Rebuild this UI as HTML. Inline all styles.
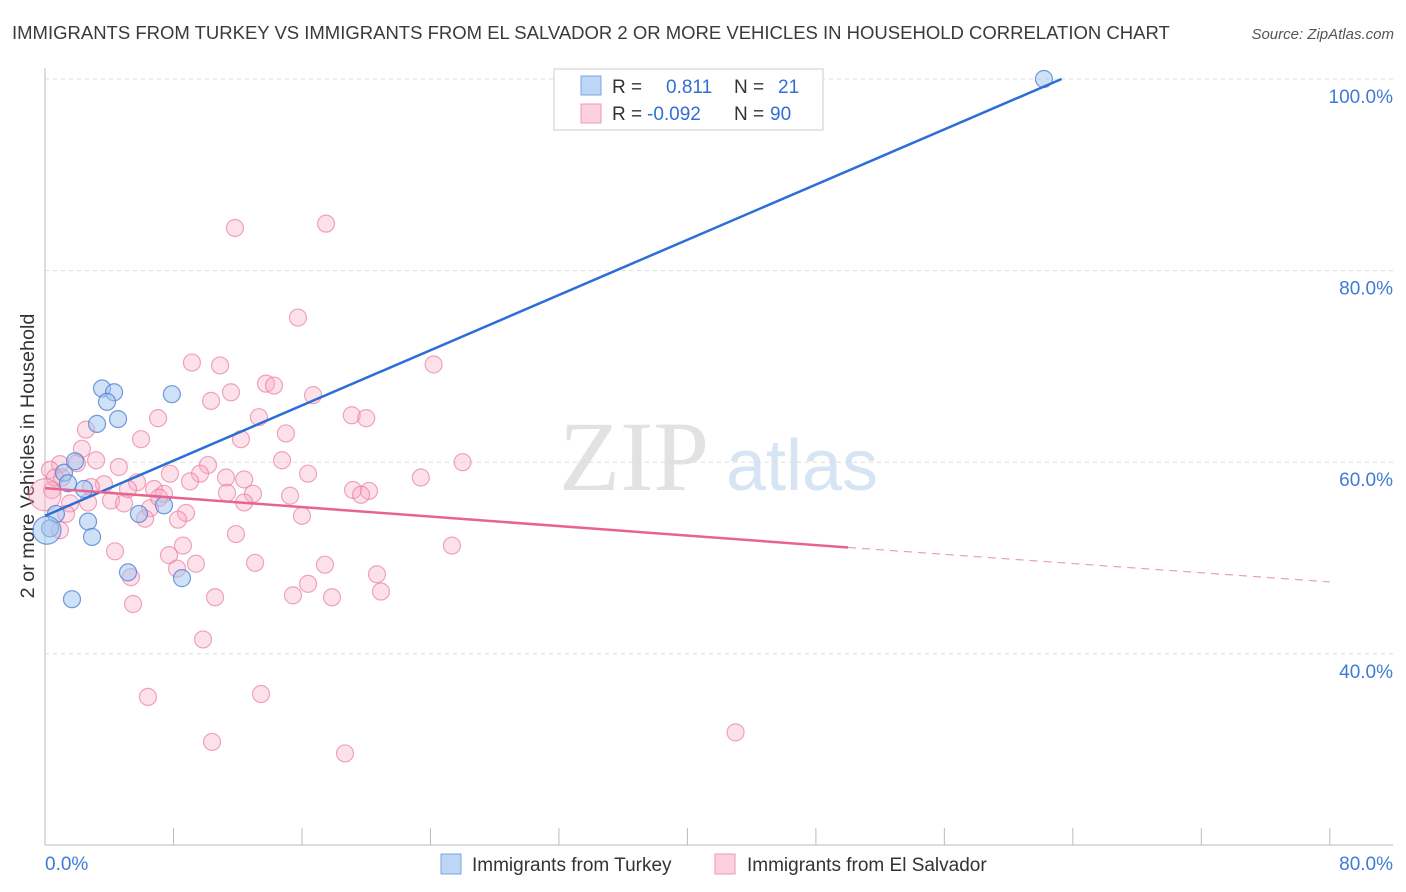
<!DOCTYPE html>
<html><head><meta charset="utf-8"><style>
body{margin:0;background:#fff;font-family:"Liberation Sans",sans-serif;}
#wrap{position:relative;width:1406px;height:892px;overflow:hidden}
</style></head><body>
<div id="wrap">
<svg id="svg" width="1406" height="892" xmlns="http://www.w3.org/2000/svg">
<text x="12" y="39" font-size="18.5" fill="#3a3a3a">IMMIGRANTS FROM TURKEY VS IMMIGRANTS FROM EL SALVADOR 2 OR MORE VEHICLES IN HOUSEHOLD CORRELATION CHART</text>
<text x="1394" y="39" font-size="15" fill="#555" font-style="italic" text-anchor="end">Source: ZipAtlas.com</text>
<text x="0" y="0" transform="translate(34,456) rotate(-90)" font-size="19.8" fill="#333" text-anchor="middle">2 or more Vehicles in Household</text>
<g><text x="634" y="490" font-size="100" fill="#e2e2e2" font-family="Liberation Serif,serif" text-anchor="middle">ZIP</text><text x="802" y="490" font-size="72" fill="#d6e4f3" text-anchor="middle">atlas</text></g>
<g id="grid"></g><g id="marks"></g>
<g>
<rect x="554" y="69" width="269" height="61" fill="#fff" stroke="#ccc"/>
<rect x="581" y="76" width="20" height="19" fill="#bcd6f5" stroke="#7aa6e0"/>
<rect x="581" y="104" width="20" height="19" fill="#fcd0dc" stroke="#ec9ab2"/>
<text x="612" y="93" font-size="19" fill="#333">R = <tspan fill="#2f6fd6" x="666">0.811</tspan><tspan x="734">N = </tspan><tspan fill="#2f6fd6" x="778">21</tspan></text>
<text x="612" y="120" font-size="19" fill="#333">R = <tspan fill="#2f6fd6" x="647">-0.092</tspan><tspan x="734">N = </tspan><tspan fill="#2f6fd6" x="770">90</tspan></text>
</g>
<g>
<rect x="441" y="854" width="20" height="20" fill="#bcd6f5" stroke="#7aa6e0"/>
<text x="472" y="871" font-size="19" fill="#333">Immigrants from Turkey</text>
<rect x="715" y="854" width="20" height="20" fill="#fcd0dc" stroke="#ec9ab2"/>
<text x="747" y="871" font-size="19" fill="#333">Immigrants from El Salvador</text>
</g>
</svg></div>
<script>
const yTicks=[40,60,80,100];
const yTickLabels=["40.0%","60.0%","80.0%","100.0%"];
const xTickVals=[0,8,16,24,32,40,48,56,64,72,80];
const turkeyX=[62.2,3.55,4.3,3.86,7.9,4.55,3.24,1.18,1.43,2.43,1.87,2.68,0.68,0.31,0.12,2.93,5.85,7.41,5.17,8.53,1.68];
const turkeyY=[100,67.7,67.3,66.3,67.1,64.5,64.0,58.9,57.8,57.2,60.1,53.8,54.6,53.1,52.9,52.2,54.6,55.5,48.5,47.9,45.7];
const salvX=[11.83,17.5,15.75,9.15,10.9,24.2,13.76,14.26,11.58,10.34,16.69,13.32,7.04,19.1,20.0,2.55,5.98,12.2,15.0,2.3,3.18,0.93,1.99,4.6,10.15,14.76,26.0,23.4,7.78,9.65,9.03,11.27,12.4,16.38,1.06,3.67,5.73,6.79,7.41,11.33,12.95,15.26,19.18,20.17,19.68,2.68,4.11,4.92,6.54,8.78,8.28,16.0,6.23,1.56,1.31,11.89,25.34,4.36,8.59,7.72,9.4,8.22,13.08,17.43,5.35,20.67,16.38,10.59,15.44,17.87,20.92,5.48,9.84,6.41,13.45,10.4,18.68,43.0,0.44,0.31,0.62,0.93,2.86,5.17,7.1,12.4,0];
const salvY=[84.45,84.9,75.1,70.4,70.1,70.2,68.2,68.0,67.3,66.4,67.0,64.7,64.6,64.9,64.6,63.4,62.4,62.4,63.0,61.4,60.2,59.8,59.9,59.5,59.7,60.2,60.0,58.4,58.8,58.8,58.0,58.4,58.2,58.8,58.4,57.7,57.9,57.2,56.7,56.8,56.7,56.5,57.1,57.0,56.6,55.8,56.0,55.7,55.2,54.7,54.0,54.4,54.1,55.7,54.6,52.5,51.3,50.7,51.3,50.3,49.4,48.9,49.5,49.3,48.0,48.3,47.3,45.9,46.1,45.9,46.5,45.2,41.5,35.5,35.8,30.8,29.6,31.8,57.1,59.2,58.4,52.9,57.4,57.2,56.3,55.8,56.6];
const turkeyTrend=[[0,54.4],[63.3,100]];
const salvTrendSolid=[[0,57.3],[50,51.1]];
const salvTrendDash=[[50,51.1],[80,47.5]];
const NS="http://www.w3.org/2000/svg";
const xs=v=>45+v*16.06, ys=v=>79+(100-v)*9.58;
function mk(tag,at,parent){const e=document.createElementNS(NS,tag);for(const k in at)e.setAttribute(k,at[k]);parent.appendChild(e);return e;}
const grid=document.getElementById('grid'),marks=document.getElementById('marks');
let e=mk('line',{x1:45,y1:68,x2:45,y2:845,stroke:'#bbb'},grid);


e=mk('line',{x1:45,y1:845,x2:1393,y2:845,stroke:'#bbb'},grid);


yTicks.forEach((t,i)=>{
 e=mk('line',{x1:45,y1:ys(t),x2:1393,y2:ys(t),stroke:'#ddd','stroke-dasharray':'4,4'},grid);
 
 
 e=mk('text',{x:1393,y:ys(t)+24,'font-size':19,fill:'#3f7bd6','text-anchor':'end'},grid);e.textContent=yTickLabels[i];
 
 
});
xTickVals.forEach(t=>{e=mk('line',{x1:xs(t),y1:828,x2:xs(t),y2:845,stroke:'#bbb'},grid);
 
 });
e=mk('text',{x:45,y:870,'font-size':19,fill:'#3f7bd6'},grid);e.textContent='0.0%';


e=mk('text',{x:1393,y:870,'font-size':19,fill:'#3f7bd6','text-anchor':'end'},grid);e.textContent='80.0%';


salvX.forEach((x,i)=>{e=mk('circle',{cx:xs(x),cy:ys(salvY[i]),r:i==salvX.length-1?16:8.5,fill:'rgba(248,170,195,0.35)',stroke:'rgba(232,120,155,0.65)','stroke-width':1.2},marks);
 
 });
turkeyX.forEach((x,i)=>{e=mk('circle',{cx:xs(x),cy:ys(turkeyY[i]),r:i==14?14:8.5,fill:'rgba(160,195,240,0.5)',stroke:'rgba(80,130,210,0.8)','stroke-width':1.2},marks);
 
 });
e=mk('line',{x1:xs(turkeyTrend[0][0]),y1:ys(turkeyTrend[0][1]),x2:xs(turkeyTrend[1][0]),y2:ys(turkeyTrend[1][1]),stroke:'#2b6fd6','stroke-width':2.5},marks);


e=mk('line',{x1:xs(salvTrendSolid[0][0]),y1:ys(salvTrendSolid[0][1]),x2:xs(salvTrendSolid[1][0]),y2:ys(salvTrendSolid[1][1]),stroke:'#e8648f','stroke-width':2.5},marks);


e=mk('line',{x1:xs(salvTrendDash[0][0]),y1:ys(salvTrendDash[0][1]),x2:xs(salvTrendDash[1][0]),y2:ys(salvTrendDash[1][1]),stroke:'#e8a0b6','stroke-width':1.2,'stroke-dasharray':'8,6'},marks);


</script>
</body></html>
